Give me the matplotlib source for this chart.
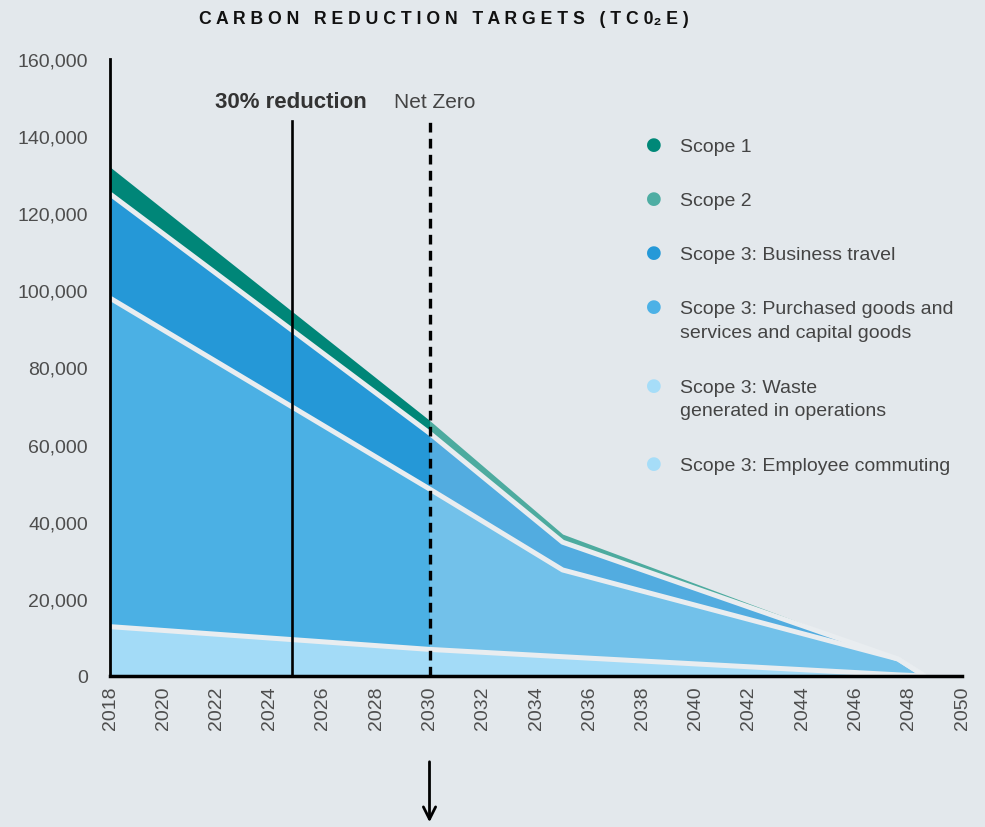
import matplotlib
matplotlib.use("Agg")
import matplotlib.pyplot as plt
import numpy as np

plt.rcParams['font.family'] = ['Liberation Sans', 'DejaVu Sans']

# ---- data (tCO2e) ----
years = np.array([2018, 2030, 2035, 2047.6, 2048.6])
commuting = np.array([12500, 6700, 4900, 300, 0])
waste = np.array([300, 200, 100, 0, 0])
purchased = np.array([85200, 41600, 22500, 4100, 0])
business_travel = np.array([27000, 14500, 7200, 0, 0])
scope_1_2 = np.array([7000, 3300, 2100, 0, 0])

legend_labels = ["Scope 1", "Scope 2", "Scope 3: Business travel",
                 "Scope 3: Purchased goods and\nservices and capital goods",
                 "Scope 3: Waste\ngenerated in operations",
                 "Scope 3: Employee commuting"]
legend_colors = ["#008878", "#4eada3", "#2599d8", "#4cb1e6", "#a6ddf8", "#a6ddf8"]

x_ticks = list(range(2018, 2051, 2))
y_ticks = list(range(0, 160001, 20000))
reduction_year = 2024.85
net_zero_year = 2030

BG = "#e3e8ec"
GAP = "#e9edf0"

fig = plt.figure(figsize=(9.85, 8.28), dpi=100, facecolor=BG)
ax = fig.add_axes([110/985, 1-677/828, (962-110)/985, (677-60)/828])
ax.set_facecolor(BG)

layers = [commuting + waste, purchased, business_travel, scope_1_2]
colors_before = ["#a3dbf7", "#4bb0e4", "#2598d7", "#008678"]
colors_after = ["#a3dbf7", "#72c1ea", "#52ace0", "#4dab9f"]

cum = np.zeros_like(years, dtype=float)
tops = []
for vals, cb, ca in zip(layers, colors_before, colors_after):
    lo = cum.copy()
    hi = cum + vals
    ax.fill_between(years, lo, hi, where=years <= net_zero_year, color=cb, lw=0, zorder=2)
    ax.fill_between(years, lo, hi, where=years >= net_zero_year, color=ca, lw=0, zorder=2)
    tops.append(hi)
    cum = hi

# separator lines between layers
for t in tops[:3]:
    ax.plot(years, t, color=GAP, lw=3.6, zorder=3, solid_capstyle='butt')

ax.set_xlim(2018, 2050)
ax.set_ylim(0, 160000)

# vertical markers
ax.plot([reduction_year, reduction_year], [0, 143800], color="black", lw=1.9, zorder=5)
ax.plot([net_zero_year, net_zero_year], [0, 143800], color="black", lw=2.4,
        dashes=(2.9, 1.9), zorder=5)
ax.text(reduction_year - 0.05, 148900, "30% reduction", ha="center", va="center",
        fontsize=16, fontweight="bold", color="#333333")
ax.text(net_zero_year + 0.2, 148900, "Net Zero", ha="center", va="center",
        fontsize=15, color="#444444")

# arrow below axis
ax.annotate("", xy=(net_zero_year, 2/828), xytext=(net_zero_year, 68/828),
            xycoords=("data", "figure fraction"), textcoords=("data", "figure fraction"),
            arrowprops=dict(arrowstyle="->", color="black", lw=2, mutation_scale=22),
            annotation_clip=False)

# spines and ticks
for s in ["top", "right"]:
    ax.spines[s].set_visible(False)
ax.spines["left"].set_linewidth(2)
ax.spines["bottom"].set_linewidth(2.5)
ax.spines["left"].set_zorder(6)
ax.spines["bottom"].set_zorder(6)

ax.set_xticks(x_ticks)
ax.set_xticklabels([str(x) for x in x_ticks], rotation=90, fontsize=14, color="#4d4d4d")
ax.set_yticks(y_ticks)
ax.set_yticklabels([f"{v:,}" for v in y_ticks], fontsize=14, color="#4d4d4d")
ax.tick_params(axis="x", length=0, pad=7)
ax.tick_params(axis="y", length=0, pad=16)

# legend (manual)
leg_y = [145, 199, 253, 307, 386, 464]
for lab, col, yy in zip(legend_labels, legend_colors, leg_y):
    fig.text(654/985, 1-yy/828, "\u25CF", color=col, fontsize=13, ha="center", va="center",
             family=["DejaVu Sans"])
    fig.text(680/985, 1-(yy-6)/828, lab, color="#444444", fontsize=14, ha="left", va="top",
             linespacing=1.5)

# title
title = "C A R B O N   R E D U C T I O N   T A R G E T S   ( T C 0\u2082 E )"
fig.text(444/985, 1-19/828, title, ha="center", va="center", fontsize=12.7,
         fontweight="bold", color="#111111")

fig.savefig("out.png", dpi=100, facecolor=BG)
